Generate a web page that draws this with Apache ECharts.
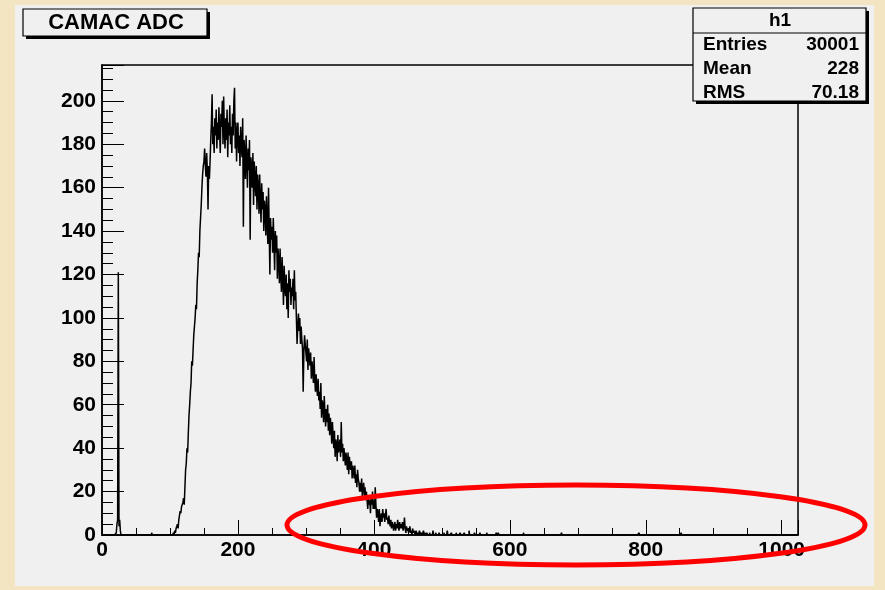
<!DOCTYPE html>
<html><head><meta charset="utf-8">
<script src="https://cdn.jsdelivr.net/npm/echarts@6/dist/echarts.min.js"></script>
<style>
html,body{margin:0;padding:0;}
#wrap{position:relative;width:885px;height:590px;background:#f3e5c1;overflow:hidden;}
#panel{position:absolute;left:15px;top:5px;width:859px;height:581px;background:#f0f0f0;}
#c{position:absolute;left:0;top:0;width:885px;height:590px;}
</style>
</head><body>
<div id="wrap"><div id="panel"></div><div id="c"></div></div>
<script>
// ---- data ----
const histTitle = 'CAMAC ADC';
const statsName = 'h1';
const statLabels = ['Entries', 'Mean', 'RMS'];
const statValues = ['30001', '228', '70.18'];
const nBins = 1024;
const xMajorStep = 200;
const yMajorStep = 20;
const yTop = 216.5;

// isolated spike near channel 24
const spikeStart = 20;
const spikeCounts = [0, 1, 5, 7, 121, 4, 7, 2, 0];

// main peak, channels 100..479
const mainStart = 100;
const mainCounts = [
  0,0,0,0,0,1,0,2,1,3,
  4,5,3,7,9,11,10,13,14,15,
  17,14,22,30,33,40,38,47,55,60,
  66,70,80,78,85,92,96,100,106,104,
  116,122,130,128,140,146,152,160,166,170,
  172,178,170,165,176,168,150,170,164,172,
  182,190,203,180,188,176,192,184,196,178,
  190,182,197,186,176,194,188,200,180,202,
  186,178,192,182,196,174,190,184,198,180,
  188,176,194,184,200,206,178,190,172,186,
  190,176,184,170,188,180,174,192,142,182,
  176,164,184,172,160,178,168,182,136,174,
  170,160,176,152,172,164,156,170,150,166,
  160,148,166,154,144,162,150,158,140,154,
  150,138,156,144,134,160,140,120,146,136,
  142,130,146,134,122,140,130,138,118,132,
  126,116,132,120,112,128,118,106,124,114,
  110,120,104,116,100,122,112,118,106,114,
  110,118,104,122,108,112,100,88,96,102,
  94,100,88,96,90,86,66,84,92,88,
  88,80,90,76,86,82,78,84,72,80,
  76,70,82,72,66,74,68,64,72,62,
  66,58,70,54,62,60,52,64,56,50,
  58,52,60,48,56,46,54,50,42,52,
  46,40,48,36,44,42,34,46,38,40,
  44,36,52,38,42,34,40,36,32,38,
  34,30,38,28,36,32,30,34,26,32,
  30,26,32,24,28,22,30,26,24,20,
  24,20,26,18,22,24,18,22,16,20,
  16,12,18,14,16,10,18,14,20,12,
  16,12,22,14,8,12,10,6,12,4,
  8,10,6,12,8,10,6,9,12,7,
  8,5,9,6,4,7,3,6,5,2,
  4,6,2,5,3,7,4,2,6,3,
  5,3,6,2,4,8,3,1,4,2,
  3,1,2,4,1,2,0,3,1,2,
  1,0,2,1,0,1,0,2,1,0,
  1,0,0,2,0,1,0,0,1,0
];

// sparse single counts elsewhere
const sparseBins   = [73, 482, 487, 491, 496, 503, 508, 514, 521, 527, 533, 540, 548, 556, 566, 580, 583, 620, 676, 790, 852];
const sparseCounts = [1,   1,   2,   1,   1,   1,   2,   1,   1,   1,   1,   2,   1,   1,   1,   1,   1,   1,   1,   1,   1];

// ---- build histogram ----
const counts = new Array(nBins).fill(0);
spikeCounts.forEach((c, i) => { counts[spikeStart + i] = c; });
mainCounts.forEach((c, i) => { counts[mainStart + i] = c; });
sparseBins.forEach((b, i) => { counts[b] = sparseCounts[i]; });
const histData = counts.map((c, i) => [i + 0.5, c]);

const FONT = 'Liberation Sans';
const chart = echarts.init(document.getElementById('c'), null, {renderer: 'canvas'});

const labelStyle = {color: '#000', fontFamily: FONT, fontWeight: 'bold', fontSize: 21};

const option = {
  animation: false,
  backgroundColor: 'transparent',
  grid: {left: 102, top: 65, width: 696, height: 470, show: true,
         borderColor: '#000', borderWidth: 1.5, backgroundColor: 'transparent', containLabel: false},
  xAxis: [
    {type: 'value', min: 0, max: nBins, interval: xMajorStep, position: 'bottom',
     axisLine: {show: true, onZero: false, lineStyle: {color: '#000', width: 1.5}},
     axisTick: {show: true, inside: true, length: 15, lineStyle: {color: '#000', width: 1}},
     axisLabel: Object.assign({margin: 5, formatter: v => (v % xMajorStep === 0 ? String(v) : '')}, labelStyle),
     splitLine: {show: false}},
    {type: 'value', min: 0, max: nBins, interval: 50, position: 'bottom',
     axisLine: {show: false},
     axisTick: {show: true, inside: true, length: 7, lineStyle: {color: '#000', width: 1}},
     axisLabel: {show: false}, splitLine: {show: false}}
  ],
  yAxis: [
    {type: 'value', min: 0, max: yTop, interval: yMajorStep, position: 'left',
     axisLine: {show: true, onZero: false, lineStyle: {color: '#000', width: 1.5}},
     axisTick: {show: true, inside: true, length: 22, lineStyle: {color: '#000', width: 1}},
     axisLabel: Object.assign({margin: 6, formatter: v => (v % yMajorStep === 0 ? String(v) : '')}, labelStyle),
     splitLine: {show: false}},
    {type: 'value', min: 0, max: yTop, interval: 5, position: 'left',
     axisLine: {show: false},
     axisTick: {show: true, inside: true, length: 11, lineStyle: {color: '#000', width: 1}},
     axisLabel: {show: false}, splitLine: {show: false}}
  ],
  series: [{
    type: 'line', xAxisIndex: 0, yAxisIndex: 0, data: histData, step: 'middle',
    showSymbol: false, symbol: 'none', lineStyle: {color: '#000', width: 1.5}, z: 3
  }],
  graphic: [
    // title box
    {type: 'rect', z: 50, shape: {x: 26, y: 12, width: 184, height: 27}, style: {fill: '#000'}},
    {type: 'rect', z: 51, shape: {x: 23, y: 9, width: 184, height: 27}, style: {fill: '#f0f0f0', stroke: '#000', lineWidth: 1.2}},
    {type: 'text', z: 52, x: 116, y: 23, style: {text: histTitle, fill: '#000', font: 'bold 22px "Liberation Sans"', align: 'center', verticalAlign: 'middle'}},
    // stats box
    {type: 'rect', z: 50, shape: {x: 696, y: 11, width: 173, height: 93}, style: {fill: '#000'}},
    {type: 'rect', z: 51, shape: {x: 693, y: 8, width: 173, height: 93}, style: {fill: '#f0f0f0', stroke: '#000', lineWidth: 1.2}},
    {type: 'line', z: 52, shape: {x1: 693, y1: 33, x2: 866, y2: 33}, style: {stroke: '#000', lineWidth: 1.2}},
    {type: 'text', z: 52, x: 780, y: 21, style: {text: statsName, fill: '#000', font: 'bold 19px "Liberation Sans"', align: 'center', verticalAlign: 'middle'}}
  ].concat(statLabels.map((l, i) => ({type: 'text', z: 52, x: 703, y: 45 + i * 24,
      style: {text: l, fill: '#000', font: 'bold 19px "Liberation Sans"', align: 'left', verticalAlign: 'middle'}})))
   .concat(statValues.map((v, i) => ({type: 'text', z: 52, x: 859, y: 45 + i * 24,
      style: {text: v, fill: '#000', font: 'bold 19px "Liberation Sans"', align: 'right', verticalAlign: 'middle'}})))
   .concat([
    // red annotation ellipse
    {type: 'ellipse', z: 60, shape: {cx: 576, cy: 525, rx: 289, ry: 40}, style: {fill: null, stroke: '#ff0000', lineWidth: 5}}
  ])
};
chart.setOption(option);
</script>
</body></html>
